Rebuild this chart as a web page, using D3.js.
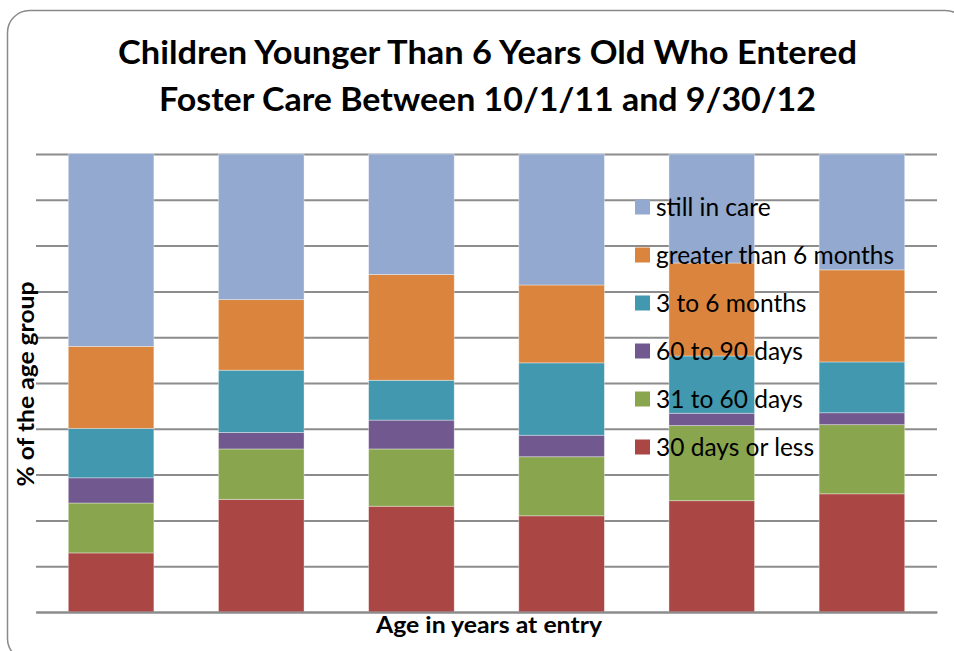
<!DOCTYPE html>
<html>
<head>
<meta charset="utf-8">
<script src="https://cdn.jsdelivr.net/npm/d3@7"></script>
<style>
  html, body { margin: 0; padding: 0; background: #fff; }
  svg { display: block; }
</style>
</head>
<body>
<svg id="chart" width="954" height="651"></svg>
<script>
// ---- data ----
const categories = ["Under 1", "1", "2", "3", "4", "5"];
const seriesNames = ["30 days or less", "31 to 60 days", "60 to 90 days", "3 to 6 months", "greater than 6 months", "still in care"];
const days30OrLess   = [12.9, 24.6, 23.1, 21.0, 24.3, 25.8];
const days31to60     = [10.9, 11.0, 12.5, 12.9, 16.4, 15.1];
const days60to90     = [5.5, 3.6, 6.3, 4.7, 2.7, 2.6];
const months3to6     = [10.8, 13.6, 8.7, 15.8, 12.5, 11.1];
const moreThan6Month = [17.9, 15.4, 23.1, 17.0, 20.3, 20.1];
const stillInCare    = [42.1, 31.8, 26.3, 28.6, 23.8, 25.3];
const yTicks = [0, 10, 20, 30, 40, 50, 60, 70, 80, 90, 100];
const colors = ["#AA4643", "#89A54E", "#71588F", "#4198AF", "#DB843D", "#93A9CF"];

const seriesValues = [days30OrLess, days31to60, days60to90, months3to6, moreThan6Month, stillInCare];
const table = categories.map((c, i) => {
  const row = { category: c };
  seriesNames.forEach((s, j) => { row[s] = seriesValues[j][i]; });
  return row;
});

const svg = d3.select("#chart");
const font = "Lato, 'Open Sans', sans-serif";

// border
svg.append("rect")
  .attr("x", 7.5).attr("y", 10.5)
  .attr("width", 960).attr("height", 650)
  .attr("rx", 22).attr("ry", 22)
  .attr("fill", "#fff")
  .attr("stroke", "#8a8a8a").attr("stroke-width", 1.5);

const plotLeft = 36, plotRight = 937, plotTop = 154, plotBottom = 612;

const x = d3.scaleBand().domain(categories).range([plotLeft, plotRight])
  .paddingInner(0.43).paddingOuter(0.215);
const y = d3.scaleLinear().domain([0, 100]).range([plotBottom, plotTop]);

// gridlines
svg.append("g")
  .attr("transform", `translate(${plotLeft},0)`)
  .call(d3.axisLeft(y).tickValues(yTicks).tickSize(-(plotRight - plotLeft)).tickFormat(""))
  .call(g => g.select(".domain").remove())
  .call(g => g.selectAll(".tick line").attr("stroke", "#8c8c8c").attr("stroke-width", 2));

// stacked bars
const stack = d3.stack().keys(seriesNames);
const stacked = stack(table);

svg.append("g").selectAll("g")
  .data(stacked)
  .join("g")
  .attr("fill", (d, i) => colors[i])
  .selectAll("rect")
  .data(d => d)
  .join("rect")
  .attr("x", d => x(d.data.category))
  .attr("width", x.bandwidth())
  .attr("y", d => y(d[1]))
  .attr("height", d => y(d[0]) - y(d[1]))
  .attr("stroke", "rgba(255,255,255,0.45)")
  .attr("stroke-width", 0.8);

// x axis baseline
svg.append("g")
  .attr("transform", `translate(0,${plotBottom})`)
  .call(d3.axisBottom(x).tickSize(0).tickFormat(""))
  .call(g => g.select(".domain").attr("stroke", "#8c8c8c").attr("stroke-width", 2));

// title
const title = svg.append("text")
  .attr("text-anchor", "middle")
  .attr("font-family", font)
  .attr("font-weight", "bold")
  .attr("font-size", 32)
  .attr("fill", "#000");
title.append("tspan").attr("x", 487.5).attr("y", 64)
  .attr("textLength", 739).attr("lengthAdjust", "spacingAndGlyphs")
  .text("Children Younger Than 6 Years Old Who Entered");
title.append("tspan").attr("x", 487.5).attr("y", 111)
  .attr("textLength", 657).attr("lengthAdjust", "spacingAndGlyphs")
  .text("Foster Care Between 10/1/11 and 9/30/12");

// axis titles
svg.append("text")
  .attr("x", 489).attr("y", 633)
  .attr("text-anchor", "middle")
  .attr("font-family", font).attr("font-weight", "bold").attr("font-size", 23)
  .attr("textLength", 226).attr("lengthAdjust", "spacingAndGlyphs")
  .text("Age in years at entry");

svg.append("text")
  .attr("transform", "translate(33.5,384) rotate(-90)")
  .attr("text-anchor", "middle")
  .attr("font-family", font).attr("font-weight", "bold").attr("font-size", 23)
  .attr("textLength", 205).attr("lengthAdjust", "spacingAndGlyphs")
  .text("% of the age group");

// legend
const legendNames = seriesNames.slice().reverse();
const legendColors = colors.slice().reverse();
const legend = svg.append("g").selectAll("g")
  .data(legendNames)
  .join("g")
  .attr("transform", (d, i) => `translate(635,${207 + i * 48})`);
legend.append("rect")
  .attr("x", 0).attr("y", -7.5).attr("width", 15).attr("height", 15)
  .attr("fill", (d, i) => legendColors[i]);
legend.append("text")
  .attr("x", 21).attr("y", 0).attr("dy", "0.35em")
  .attr("font-family", font).attr("font-size", 24.5)
  .attr("fill", "#000")
  .text(d => d);
</script>
</body>
</html>
